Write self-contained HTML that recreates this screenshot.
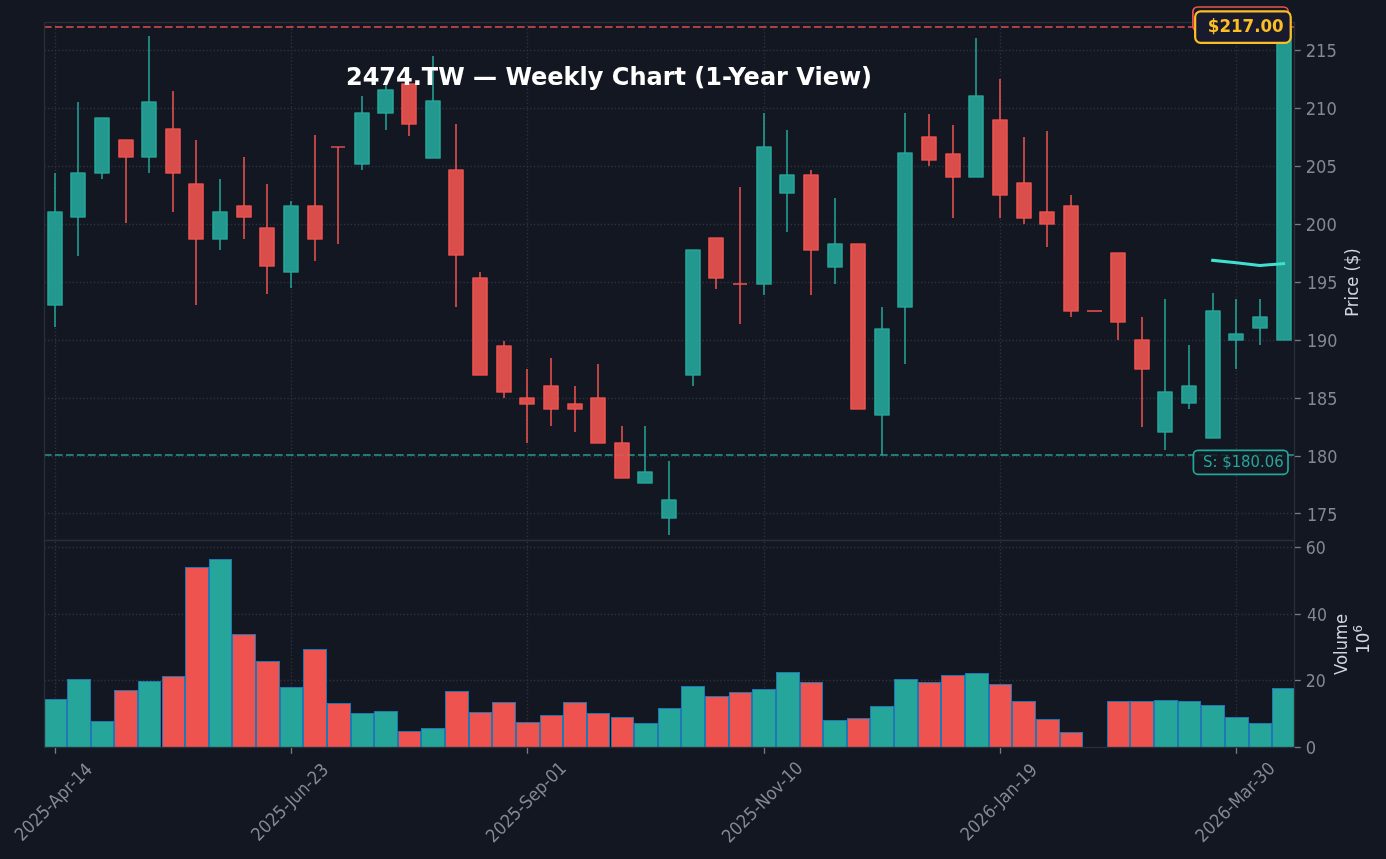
<!DOCTYPE html>
<html lang="en">
<head>
<meta charset="utf-8">
<title>2474.TW — Weekly Chart (1-Year View)</title>
<style>html,body{margin:0;padding:0;background:#131722;overflow:hidden}svg{display:block}</style>
</head>
<body>
<svg width="1386" height="859" viewBox="0 0 1386 859" font-family="'DejaVu Sans','Liberation Sans',sans-serif">
<rect width="1386" height="859" fill="#131722"/>
<defs>
<clipPath id="cm"><rect x="44.5" y="22.5" width="1250.0" height="518.0"/></clipPath>
<clipPath id="cv"><rect x="44.5" y="540.5" width="1250.0" height="207.0"/></clipPath>
</defs>
<g stroke="#2f3340" stroke-width="1.33" stroke-dasharray="1.33 2.19" fill="none">
<path d="M44.5 513.5H1294.5"/>
<path d="M44.5 456.5H1294.5"/>
<path d="M44.5 398.5H1294.5"/>
<path d="M44.5 340.5H1294.5"/>
<path d="M44.5 282.5H1294.5"/>
<path d="M44.5 224.5H1294.5"/>
<path d="M44.5 166.5H1294.5"/>
<path d="M44.5 108.5H1294.5"/>
<path d="M44.5 50.5H1294.5"/>
<path d="M44.5 680.5H1294.5"/>
<path d="M44.5 614.5H1294.5"/>
<path d="M44.5 547.5H1294.5"/>
<path d="M55.5 540.5V22.5"/>
<path d="M55.5 747.5V540.5"/>
<path d="M291.5 540.5V22.5"/>
<path d="M291.5 747.5V540.5"/>
<path d="M527.5 540.5V22.5"/>
<path d="M527.5 747.5V540.5"/>
<path d="M764.5 540.5V22.5"/>
<path d="M764.5 747.5V540.5"/>
<path d="M1000.5 540.5V22.5"/>
<path d="M1000.5 747.5V540.5"/>
<path d="M1236.5 540.5V22.5"/>
<path d="M1236.5 747.5V540.5"/>
</g>
<g clip-path="url(#cv)" stroke="#1f77b4" stroke-width="1">
<rect x="43.5" y="699.5" width="23.0" height="48.0" fill="#26a69a"/>
<rect x="67.5" y="679.5" width="23.0" height="68.0" fill="#26a69a"/>
<rect x="91.5" y="721.5" width="22.0" height="26.0" fill="#26a69a"/>
<rect x="114.5" y="690.5" width="23.0" height="57.0" fill="#ef5350"/>
<rect x="138.5" y="681.5" width="22.0" height="66.0" fill="#26a69a"/>
<rect x="162.5" y="676.5" width="22.0" height="71.0" fill="#ef5350"/>
<rect x="185.5" y="567.5" width="23.0" height="180.0" fill="#ef5350"/>
<rect x="209.5" y="559.5" width="22.0" height="188.0" fill="#26a69a"/>
<rect x="232.5" y="634.5" width="23.0" height="113.0" fill="#ef5350"/>
<rect x="256.5" y="661.5" width="23.0" height="86.0" fill="#ef5350"/>
<rect x="280.5" y="687.5" width="22.0" height="60.0" fill="#26a69a"/>
<rect x="303.5" y="649.5" width="23.0" height="98.0" fill="#ef5350"/>
<rect x="327.5" y="703.5" width="23.0" height="44.0" fill="#ef5350"/>
<rect x="351.5" y="713.5" width="22.0" height="34.0" fill="#26a69a"/>
<rect x="374.5" y="711.5" width="23.0" height="36.0" fill="#26a69a"/>
<rect x="398.5" y="731.5" width="22.0" height="16.0" fill="#ef5350"/>
<rect x="421.5" y="728.5" width="23.0" height="19.0" fill="#26a69a"/>
<rect x="445.5" y="691.5" width="23.0" height="56.0" fill="#ef5350"/>
<rect x="469.5" y="712.5" width="22.0" height="35.0" fill="#ef5350"/>
<rect x="492.5" y="702.5" width="23.0" height="45.0" fill="#ef5350"/>
<rect x="516.5" y="722.5" width="23.0" height="25.0" fill="#ef5350"/>
<rect x="540.5" y="715.5" width="22.0" height="32.0" fill="#ef5350"/>
<rect x="563.5" y="702.5" width="23.0" height="45.0" fill="#ef5350"/>
<rect x="587.5" y="713.5" width="22.0" height="34.0" fill="#ef5350"/>
<rect x="611.5" y="717.5" width="22.0" height="30.0" fill="#ef5350"/>
<rect x="634.5" y="723.5" width="23.0" height="24.0" fill="#26a69a"/>
<rect x="658.5" y="708.5" width="22.0" height="39.0" fill="#26a69a"/>
<rect x="681.5" y="686.5" width="23.0" height="61.0" fill="#26a69a"/>
<rect x="705.5" y="696.5" width="23.0" height="51.0" fill="#ef5350"/>
<rect x="729.5" y="692.5" width="22.0" height="55.0" fill="#ef5350"/>
<rect x="752.5" y="689.5" width="23.0" height="58.0" fill="#26a69a"/>
<rect x="776.5" y="672.5" width="23.0" height="75.0" fill="#26a69a"/>
<rect x="800.5" y="682.5" width="22.0" height="65.0" fill="#ef5350"/>
<rect x="823.5" y="720.5" width="23.0" height="27.0" fill="#26a69a"/>
<rect x="847.5" y="718.5" width="22.0" height="29.0" fill="#ef5350"/>
<rect x="870.5" y="706.5" width="23.0" height="41.0" fill="#26a69a"/>
<rect x="894.5" y="679.5" width="23.0" height="68.0" fill="#26a69a"/>
<rect x="918.5" y="682.5" width="22.0" height="65.0" fill="#ef5350"/>
<rect x="941.5" y="675.5" width="23.0" height="72.0" fill="#ef5350"/>
<rect x="965.5" y="673.5" width="23.0" height="74.0" fill="#26a69a"/>
<rect x="989.5" y="684.5" width="22.0" height="63.0" fill="#ef5350"/>
<rect x="1012.5" y="701.5" width="23.0" height="46.0" fill="#ef5350"/>
<rect x="1036.5" y="719.5" width="23.0" height="28.0" fill="#ef5350"/>
<rect x="1060.5" y="732.5" width="22.0" height="15.0" fill="#ef5350"/>
<rect x="1107.5" y="701.5" width="22.0" height="46.0" fill="#ef5350"/>
<rect x="1130.5" y="701.5" width="23.0" height="46.0" fill="#ef5350"/>
<rect x="1154.5" y="700.5" width="23.0" height="47.0" fill="#26a69a"/>
<rect x="1178.5" y="701.5" width="22.0" height="46.0" fill="#26a69a"/>
<rect x="1201.5" y="705.5" width="23.0" height="42.0" fill="#26a69a"/>
<rect x="1225.5" y="717.5" width="23.0" height="30.0" fill="#26a69a"/>
<rect x="1249.5" y="723.5" width="22.0" height="24.0" fill="#26a69a"/>
<rect x="1272.5" y="688.5" width="23.0" height="59.0" fill="#26a69a"/>
</g>
<g clip-path="url(#cm)" fill="none" stroke-width="2" stroke-dasharray="7.68 3.32">
<path d="M43.95 455.0H1294.5" stroke="#26a69a" stroke-opacity="0.7"/>
<path d="M43.95 27.0H1294.5" stroke="#ef5350" stroke-opacity="0.7"/>
</g>
<g clip-path="url(#cm)" stroke-linejoin="round" stroke-linecap="butt">
<path d="M55 173V212M55 305V327" stroke="#26a69a" stroke-opacity="0.9" stroke-width="1.7" fill="none"/>
<rect x="48" y="212" width="14" height="93" fill="#26a69a" fill-opacity="0.9" stroke="#26a69a" stroke-opacity="0.9" stroke-width="1.7"/>
<path d="M78 102V173M78 217V256" stroke="#26a69a" stroke-opacity="0.9" stroke-width="1.7" fill="none"/>
<rect x="71" y="173" width="14" height="44" fill="#26a69a" fill-opacity="0.9" stroke="#26a69a" stroke-opacity="0.9" stroke-width="1.7"/>
<path d="M102 173V179" stroke="#26a69a" stroke-opacity="0.9" stroke-width="1.7" fill="none"/>
<rect x="95" y="118" width="14" height="55" fill="#26a69a" fill-opacity="0.9" stroke="#26a69a" stroke-opacity="0.9" stroke-width="1.7"/>
<path d="M126 157V223" stroke="#ef5350" stroke-opacity="0.9" stroke-width="1.7" fill="none"/>
<rect x="119" y="140" width="14" height="17" fill="#ef5350" fill-opacity="0.9" stroke="#ef5350" stroke-opacity="0.9" stroke-width="1.7"/>
<path d="M149 36V102M149 157V173" stroke="#26a69a" stroke-opacity="0.9" stroke-width="1.7" fill="none"/>
<rect x="142" y="102" width="14" height="55" fill="#26a69a" fill-opacity="0.9" stroke="#26a69a" stroke-opacity="0.9" stroke-width="1.7"/>
<path d="M173 91V129M173 173V212" stroke="#ef5350" stroke-opacity="0.9" stroke-width="1.7" fill="none"/>
<rect x="166" y="129" width="14" height="44" fill="#ef5350" fill-opacity="0.9" stroke="#ef5350" stroke-opacity="0.9" stroke-width="1.7"/>
<path d="M196 140V184M196 239V305" stroke="#ef5350" stroke-opacity="0.9" stroke-width="1.7" fill="none"/>
<rect x="189" y="184" width="14" height="55" fill="#ef5350" fill-opacity="0.9" stroke="#ef5350" stroke-opacity="0.9" stroke-width="1.7"/>
<path d="M220 179V212M220 239V250" stroke="#26a69a" stroke-opacity="0.9" stroke-width="1.7" fill="none"/>
<rect x="213" y="212" width="14" height="27" fill="#26a69a" fill-opacity="0.9" stroke="#26a69a" stroke-opacity="0.9" stroke-width="1.7"/>
<path d="M244 157V206M244 217V239" stroke="#ef5350" stroke-opacity="0.9" stroke-width="1.7" fill="none"/>
<rect x="237" y="206" width="14" height="11" fill="#ef5350" fill-opacity="0.9" stroke="#ef5350" stroke-opacity="0.9" stroke-width="1.7"/>
<path d="M267 184V228M267 266V294" stroke="#ef5350" stroke-opacity="0.9" stroke-width="1.7" fill="none"/>
<rect x="260" y="228" width="14" height="38" fill="#ef5350" fill-opacity="0.9" stroke="#ef5350" stroke-opacity="0.9" stroke-width="1.7"/>
<path d="M291 201V206M291 272V288" stroke="#26a69a" stroke-opacity="0.9" stroke-width="1.7" fill="none"/>
<rect x="284" y="206" width="14" height="66" fill="#26a69a" fill-opacity="0.9" stroke="#26a69a" stroke-opacity="0.9" stroke-width="1.7"/>
<path d="M315 135V206M315 239V261" stroke="#ef5350" stroke-opacity="0.9" stroke-width="1.7" fill="none"/>
<rect x="308" y="206" width="14" height="33" fill="#ef5350" fill-opacity="0.9" stroke="#ef5350" stroke-opacity="0.9" stroke-width="1.7"/>
<path d="M338 147V244" stroke="#ef5350" stroke-opacity="0.9" stroke-width="1.7" fill="none"/>
<path d="M331 147H345" stroke="#ef5350" stroke-opacity="0.9" stroke-width="1.7" stroke-linecap="butt" fill="none"/>
<path d="M362 96V113M362 164V170" stroke="#26a69a" stroke-opacity="0.9" stroke-width="1.7" fill="none"/>
<rect x="355" y="113" width="14" height="51" fill="#26a69a" fill-opacity="0.9" stroke="#26a69a" stroke-opacity="0.9" stroke-width="1.7"/>
<path d="M386 84V90M386 113V130" stroke="#26a69a" stroke-opacity="0.9" stroke-width="1.7" fill="none"/>
<rect x="378" y="90" width="15" height="23" fill="#26a69a" fill-opacity="0.9" stroke="#26a69a" stroke-opacity="0.9" stroke-width="1.7"/>
<path d="M409 124V136" stroke="#ef5350" stroke-opacity="0.9" stroke-width="1.7" fill="none"/>
<rect x="402" y="84" width="14" height="40" fill="#ef5350" fill-opacity="0.9" stroke="#ef5350" stroke-opacity="0.9" stroke-width="1.7"/>
<path d="M433 56V101" stroke="#26a69a" stroke-opacity="0.9" stroke-width="1.7" fill="none"/>
<rect x="426" y="101" width="14" height="57" fill="#26a69a" fill-opacity="0.9" stroke="#26a69a" stroke-opacity="0.9" stroke-width="1.7"/>
<path d="M456 124V170M456 255V307" stroke="#ef5350" stroke-opacity="0.9" stroke-width="1.7" fill="none"/>
<rect x="449" y="170" width="14" height="85" fill="#ef5350" fill-opacity="0.9" stroke="#ef5350" stroke-opacity="0.9" stroke-width="1.7"/>
<path d="M480 272V278" stroke="#ef5350" stroke-opacity="0.9" stroke-width="1.7" fill="none"/>
<rect x="473" y="278" width="14" height="97" fill="#ef5350" fill-opacity="0.9" stroke="#ef5350" stroke-opacity="0.9" stroke-width="1.7"/>
<path d="M504 341V346M504 392V398" stroke="#ef5350" stroke-opacity="0.9" stroke-width="1.7" fill="none"/>
<rect x="497" y="346" width="14" height="46" fill="#ef5350" fill-opacity="0.9" stroke="#ef5350" stroke-opacity="0.9" stroke-width="1.7"/>
<path d="M527 369V398M527 404V443" stroke="#ef5350" stroke-opacity="0.9" stroke-width="1.7" fill="none"/>
<rect x="520" y="398" width="14" height="6" fill="#ef5350" fill-opacity="0.9" stroke="#ef5350" stroke-opacity="0.9" stroke-width="1.7"/>
<path d="M551 358V386M551 409V426" stroke="#ef5350" stroke-opacity="0.9" stroke-width="1.7" fill="none"/>
<rect x="544" y="386" width="14" height="23" fill="#ef5350" fill-opacity="0.9" stroke="#ef5350" stroke-opacity="0.9" stroke-width="1.7"/>
<path d="M575 386V404M575 409V432" stroke="#ef5350" stroke-opacity="0.9" stroke-width="1.7" fill="none"/>
<rect x="568" y="404" width="14" height="5" fill="#ef5350" fill-opacity="0.9" stroke="#ef5350" stroke-opacity="0.9" stroke-width="1.7"/>
<path d="M598 364V398" stroke="#ef5350" stroke-opacity="0.9" stroke-width="1.7" fill="none"/>
<rect x="591" y="398" width="14" height="45" fill="#ef5350" fill-opacity="0.9" stroke="#ef5350" stroke-opacity="0.9" stroke-width="1.7"/>
<path d="M622 426V443" stroke="#ef5350" stroke-opacity="0.9" stroke-width="1.7" fill="none"/>
<rect x="615" y="443" width="14" height="35" fill="#ef5350" fill-opacity="0.9" stroke="#ef5350" stroke-opacity="0.9" stroke-width="1.7"/>
<path d="M645 426V472" stroke="#26a69a" stroke-opacity="0.9" stroke-width="1.7" fill="none"/>
<rect x="638" y="472" width="14" height="11" fill="#26a69a" fill-opacity="0.9" stroke="#26a69a" stroke-opacity="0.9" stroke-width="1.7"/>
<path d="M669 461V500M669 518V535" stroke="#26a69a" stroke-opacity="0.9" stroke-width="1.7" fill="none"/>
<rect x="662" y="500" width="14" height="18" fill="#26a69a" fill-opacity="0.9" stroke="#26a69a" stroke-opacity="0.9" stroke-width="1.7"/>
<path d="M693 375V386" stroke="#26a69a" stroke-opacity="0.9" stroke-width="1.7" fill="none"/>
<rect x="686" y="250" width="14" height="125" fill="#26a69a" fill-opacity="0.9" stroke="#26a69a" stroke-opacity="0.9" stroke-width="1.7"/>
<path d="M716 278V289" stroke="#ef5350" stroke-opacity="0.9" stroke-width="1.7" fill="none"/>
<rect x="709" y="238" width="14" height="40" fill="#ef5350" fill-opacity="0.9" stroke="#ef5350" stroke-opacity="0.9" stroke-width="1.7"/>
<path d="M740 187V284M740 284V324" stroke="#ef5350" stroke-opacity="0.9" stroke-width="1.7" fill="none"/>
<path d="M733 284H747" stroke="#ef5350" stroke-opacity="0.9" stroke-width="1.7" stroke-linecap="butt" fill="none"/>
<path d="M764 113V147M764 284V295" stroke="#26a69a" stroke-opacity="0.9" stroke-width="1.7" fill="none"/>
<rect x="757" y="147" width="14" height="137" fill="#26a69a" fill-opacity="0.9" stroke="#26a69a" stroke-opacity="0.9" stroke-width="1.7"/>
<path d="M787 130V175M787 193V232" stroke="#26a69a" stroke-opacity="0.9" stroke-width="1.7" fill="none"/>
<rect x="780" y="175" width="14" height="18" fill="#26a69a" fill-opacity="0.9" stroke="#26a69a" stroke-opacity="0.9" stroke-width="1.7"/>
<path d="M811 170V175M811 250V295" stroke="#ef5350" stroke-opacity="0.9" stroke-width="1.7" fill="none"/>
<rect x="804" y="175" width="14" height="75" fill="#ef5350" fill-opacity="0.9" stroke="#ef5350" stroke-opacity="0.9" stroke-width="1.7"/>
<path d="M835 198V244M835 267V284" stroke="#26a69a" stroke-opacity="0.9" stroke-width="1.7" fill="none"/>
<rect x="828" y="244" width="14" height="23" fill="#26a69a" fill-opacity="0.9" stroke="#26a69a" stroke-opacity="0.9" stroke-width="1.7"/>
<rect x="851" y="244" width="14" height="165" fill="#ef5350" fill-opacity="0.9" stroke="#ef5350" stroke-opacity="0.9" stroke-width="1.7"/>
<path d="M882 307V329M882 415V455" stroke="#26a69a" stroke-opacity="0.9" stroke-width="1.7" fill="none"/>
<rect x="875" y="329" width="14" height="86" fill="#26a69a" fill-opacity="0.9" stroke="#26a69a" stroke-opacity="0.9" stroke-width="1.7"/>
<path d="M905 113V153M905 307V364" stroke="#26a69a" stroke-opacity="0.9" stroke-width="1.7" fill="none"/>
<rect x="898" y="153" width="14" height="154" fill="#26a69a" fill-opacity="0.9" stroke="#26a69a" stroke-opacity="0.9" stroke-width="1.7"/>
<path d="M929 114V137M929 160V166" stroke="#ef5350" stroke-opacity="0.9" stroke-width="1.7" fill="none"/>
<rect x="922" y="137" width="14" height="23" fill="#ef5350" fill-opacity="0.9" stroke="#ef5350" stroke-opacity="0.9" stroke-width="1.7"/>
<path d="M953 125V154M953 177V218" stroke="#ef5350" stroke-opacity="0.9" stroke-width="1.7" fill="none"/>
<rect x="946" y="154" width="14" height="23" fill="#ef5350" fill-opacity="0.9" stroke="#ef5350" stroke-opacity="0.9" stroke-width="1.7"/>
<path d="M976 38V96" stroke="#26a69a" stroke-opacity="0.9" stroke-width="1.7" fill="none"/>
<rect x="969" y="96" width="14" height="81" fill="#26a69a" fill-opacity="0.9" stroke="#26a69a" stroke-opacity="0.9" stroke-width="1.7"/>
<path d="M1000 79V120M1000 195V218" stroke="#ef5350" stroke-opacity="0.9" stroke-width="1.7" fill="none"/>
<rect x="993" y="120" width="14" height="75" fill="#ef5350" fill-opacity="0.9" stroke="#ef5350" stroke-opacity="0.9" stroke-width="1.7"/>
<path d="M1024 137V183M1024 218V224" stroke="#ef5350" stroke-opacity="0.9" stroke-width="1.7" fill="none"/>
<rect x="1017" y="183" width="14" height="35" fill="#ef5350" fill-opacity="0.9" stroke="#ef5350" stroke-opacity="0.9" stroke-width="1.7"/>
<path d="M1047 131V212M1047 224V247" stroke="#ef5350" stroke-opacity="0.9" stroke-width="1.7" fill="none"/>
<rect x="1040" y="212" width="14" height="12" fill="#ef5350" fill-opacity="0.9" stroke="#ef5350" stroke-opacity="0.9" stroke-width="1.7"/>
<path d="M1071 195V206M1071 311V317" stroke="#ef5350" stroke-opacity="0.9" stroke-width="1.7" fill="none"/>
<rect x="1064" y="206" width="14" height="105" fill="#ef5350" fill-opacity="0.9" stroke="#ef5350" stroke-opacity="0.9" stroke-width="1.7"/>
<path d="M1087 311H1102" stroke="#ef5350" stroke-opacity="0.9" stroke-width="1.7" stroke-linecap="butt" fill="none"/>
<path d="M1118 322V340" stroke="#ef5350" stroke-opacity="0.9" stroke-width="1.7" fill="none"/>
<rect x="1111" y="253" width="14" height="69" fill="#ef5350" fill-opacity="0.9" stroke="#ef5350" stroke-opacity="0.9" stroke-width="1.7"/>
<path d="M1142 317V340M1142 369V427" stroke="#ef5350" stroke-opacity="0.9" stroke-width="1.7" fill="none"/>
<rect x="1135" y="340" width="14" height="29" fill="#ef5350" fill-opacity="0.9" stroke="#ef5350" stroke-opacity="0.9" stroke-width="1.7"/>
<path d="M1165 299V392M1165 432V450" stroke="#26a69a" stroke-opacity="0.9" stroke-width="1.7" fill="none"/>
<rect x="1158" y="392" width="14" height="40" fill="#26a69a" fill-opacity="0.9" stroke="#26a69a" stroke-opacity="0.9" stroke-width="1.7"/>
<path d="M1189 345V386M1189 403V409" stroke="#26a69a" stroke-opacity="0.9" stroke-width="1.7" fill="none"/>
<rect x="1182" y="386" width="14" height="17" fill="#26a69a" fill-opacity="0.9" stroke="#26a69a" stroke-opacity="0.9" stroke-width="1.7"/>
<path d="M1213 293V311" stroke="#26a69a" stroke-opacity="0.9" stroke-width="1.7" fill="none"/>
<rect x="1206" y="311" width="14" height="127" fill="#26a69a" fill-opacity="0.9" stroke="#26a69a" stroke-opacity="0.9" stroke-width="1.7"/>
<path d="M1236 299V334M1236 340V369" stroke="#26a69a" stroke-opacity="0.9" stroke-width="1.7" fill="none"/>
<rect x="1229" y="334" width="14" height="6" fill="#26a69a" fill-opacity="0.9" stroke="#26a69a" stroke-opacity="0.9" stroke-width="1.7"/>
<path d="M1260 299V317M1260 328V345" stroke="#26a69a" stroke-opacity="0.9" stroke-width="1.7" fill="none"/>
<rect x="1253" y="317" width="14" height="11" fill="#26a69a" fill-opacity="0.9" stroke="#26a69a" stroke-opacity="0.9" stroke-width="1.7"/>
<rect x="1277" y="28" width="14" height="312" fill="#26a69a" fill-opacity="0.9" stroke="#26a69a" stroke-opacity="0.9" stroke-width="1.7"/>
</g>
<path d="M1212.66 260.3L1236.29 262.7L1259.92 265.6L1283.56 263.6" fill="none" stroke="#40e0d0" stroke-width="3.0" stroke-linejoin="round" stroke-linecap="square"/>
<g stroke="#2a2e39" stroke-width="1.3" fill="none">
<rect x="44.5" y="22.5" width="1250.0" height="518.0"/>
<rect x="44.5" y="540.5" width="1250.0" height="207.0"/>
</g>
<g stroke="#787b86" stroke-width="1.3" fill="none">
<path d="M1295.0 513.5h5.8"/>
<path d="M1295.0 456.5h5.8"/>
<path d="M1295.0 398.5h5.8"/>
<path d="M1295.0 340.5h5.8"/>
<path d="M1295.0 282.5h5.8"/>
<path d="M1295.0 224.5h5.8"/>
<path d="M1295.0 166.5h5.8"/>
<path d="M1295.0 108.5h5.8"/>
<path d="M1295.0 50.5h5.8"/>
<path d="M1295.0 747.5h5.8"/>
<path d="M1295.0 680.5h5.8"/>
<path d="M1295.0 614.5h5.8"/>
<path d="M1295.0 547.5h5.8"/>
<path d="M55.5 748.0v5.8"/>
<path d="M291.5 748.0v5.8"/>
<path d="M527.5 748.0v5.8"/>
<path d="M764.5 748.0v5.8"/>
<path d="M1000.5 748.0v5.8"/>
<path d="M1236.5 748.0v5.8"/>
</g>
<g fill="#858892" font-size="16.67px">
<text transform="translate(1306.9 521) scale(0.96 1.075)">175</text>
<text transform="translate(1306.9 463) scale(0.96 1.075)">180</text>
<text transform="translate(1306.9 405) scale(0.96 1.075)">185</text>
<text transform="translate(1306.9 347) scale(0.96 1.075)">190</text>
<text transform="translate(1306.9 289) scale(0.96 1.075)">195</text>
<text transform="translate(1305.7 231) scale(0.98 1.075)">200</text>
<text transform="translate(1305.7 173) scale(0.98 1.075)">205</text>
<text transform="translate(1305.7 115) scale(0.98 1.075)">210</text>
<text transform="translate(1305.7 57) scale(0.98 1.075)">215</text>
<text transform="translate(1305.7 754) scale(0.98 1.075)">0</text>
<text transform="translate(1305.7 687) scale(0.945 1.075)">20</text>
<text transform="translate(1306.9 621) scale(0.945 1.075)">40</text>
<text transform="translate(1305.7 554) scale(0.945 1.075)">60</text>
<text transform="translate(53.0 801.8) rotate(-45) scale(0.98 1.075)" text-anchor="middle" y="6.1">2025-Apr-14</text>
<text transform="translate(289.4 801.8) rotate(-45) scale(0.98 1.075)" text-anchor="middle" y="6.1">2025-Jun-23</text>
<text transform="translate(525.7 801.8) rotate(-45) scale(0.98 1.075)" text-anchor="middle" y="6.1">2025-Sep-01</text>
<text transform="translate(762.0 801.8) rotate(-45) scale(0.98 1.075)" text-anchor="middle" y="6.1">2025-Nov-10</text>
<text transform="translate(998.4 801.8) rotate(-45) scale(0.98 1.075)" text-anchor="middle" y="6.1">2026-Jan-19</text>
<text transform="translate(1234.7 801.8) rotate(-45) scale(0.98 1.075)" text-anchor="middle" y="6.1">2026-Mar-30</text>
</g>
<g fill="#d1d4dc" font-size="16.67px" text-anchor="middle">
<text transform="translate(1358.2 282.5) rotate(-90) scale(0.985 1.075)">Price ($)</text>
<text transform="translate(1347.4 644.5) rotate(-90) scale(0.985 1.075)">Volume</text>
<text transform="translate(1369.2 639.5) rotate(-90) scale(1 1.075)">10<tspan font-size="11.67px" dy="-6.3">6</tspan></text>
</g>
<rect x="1193.4" y="450.4" width="94.6" height="23.9" rx="4.5" fill="#131722" fill-opacity="0.85" stroke="#26a69a" stroke-width="1.7"/>
<text transform="translate(1203.0 466.8) scale(0.992 1.03)" font-size="15px" fill="#26a69a">S: $180.06</text>
<rect x="1192.9" y="7.0" width="95.3" height="23.6" rx="4.5" fill="#131722" fill-opacity="0.9" stroke="#ef5350" stroke-width="1.7"/>
<rect x="1195.15" y="11.4" width="95.55" height="31.4" rx="5.5" fill="#1a1a2e" stroke="#fbbf24" stroke-width="2.2"/>
<text transform="translate(1207.8 31.6) scale(0.992 1.02)" font-size="16.8px" font-weight="bold" fill="#fbbf24">$217.00</text>
<text x="609" y="85.3" font-size="24px" font-weight="bold" fill="#ffffff" text-anchor="middle">2474.TW — Weekly Chart (1-Year View)</text>
</svg>
</body>
</html>
